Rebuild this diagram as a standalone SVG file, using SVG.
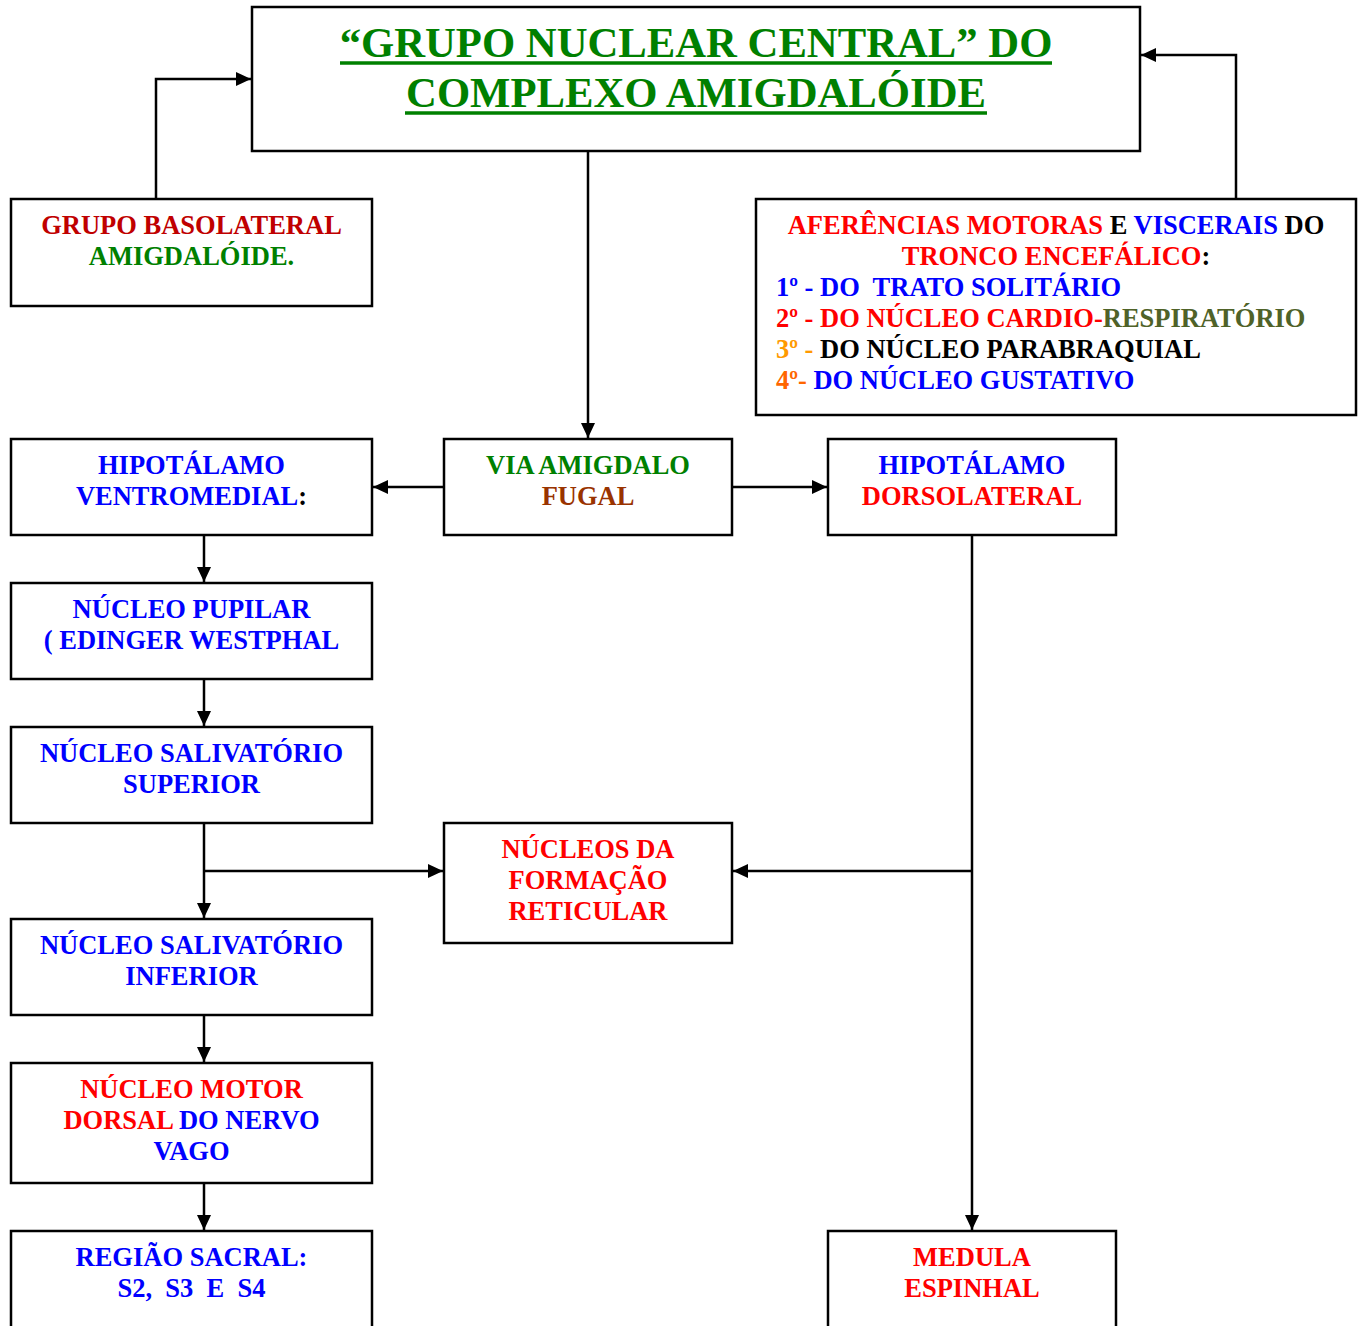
<svg xmlns="http://www.w3.org/2000/svg" width="1362" height="1326" viewBox="0 0 1362 1326">
  <style>
    .box { fill: #ffffff; stroke: #000000; stroke-width: 2.5; }
    .lbl { font-family: "Liberation Serif", "Times New Roman", serif; font-weight: bold; font-size: 26.5px; white-space: pre; }
    .mid { text-anchor: middle; }
    .title { font-family: "Liberation Serif", "Times New Roman", serif; font-weight: bold; font-size: 42.7px; fill: #008000; text-anchor: middle; }
    .ul { stroke: #008000; stroke-width: 3.5; }
    .wire { fill: none; stroke: #000000; stroke-width: 2.5; }
    .r { fill: #ff0000; }
    .b { fill: #0000ff; }
    .g { fill: #008000; }
    .k { fill: #000000; }
    .dr { fill: #c00000; }
    .br { fill: #993300; }
    .ol { fill: #4f6228; }
    .o1 { fill: #ff9900; }
    .o2 { fill: #ff6600; }
  </style>
  <defs>
    <marker id="arrow" markerUnits="userSpaceOnUse" markerWidth="15" markerHeight="14" refX="15" refY="7" orient="auto">
      <path d="M0,0 L15,7 L0,14 z" fill="#000000"/>
    </marker>
  </defs>

  <rect width="1362" height="1326" fill="#ffffff"/>

  <!-- connectors -->
  <g id="connectors" class="wire" marker-end="url(#arrow)">
    <path d="M156,199 V79 H251"/>
    <path d="M1236,199 V55 H1141"/>
    <path d="M588,151 V438"/>
    <path d="M444,487 H373"/>
    <path d="M732,487 H827"/>
    <path d="M204,535 V582"/>
    <path d="M204,679 V726"/>
    <path d="M204,823 V918"/>
    <path d="M204,871 H443"/>
    <path d="M204,1015 V1062"/>
    <path d="M204,1183 V1230"/>
    <path d="M972,535 V1230"/>
    <path d="M972,871 H733"/>
  </g>

  <!-- central nucleus group -->
  <g id="nucleo-central">
    <rect class="box" x="252" y="7" width="888" height="144"/>
    <text class="title" x="696" y="57">“GRUPO NUCLEAR CENTRAL” DO</text>
    <line class="ul" x1="340" y1="63" x2="1052" y2="63"/>
    <text class="title" x="696" y="107">COMPLEXO AMIGDALÓIDE</text>
    <line class="ul" x1="405" y1="113" x2="987" y2="113"/>
  </g>

  <g id="basolateral">
    <rect class="box" x="11" y="199" width="361" height="107"/>
    <text class="lbl mid dr" x="191.5" y="234">GRUPO BASOLATERAL</text>
    <text class="lbl mid g" x="191.5" y="265">AMIGDALÓIDE.</text>
  </g>

  <g id="aferencias">
    <rect class="box" x="756" y="199" width="600" height="216"/>
    <text class="lbl mid" x="1056" y="234"><tspan class="r">AFERÊNCIAS MOTORAS</tspan><tspan class="k"> E </tspan><tspan class="b">VISCERAIS</tspan><tspan class="k"> DO</tspan></text>
    <text class="lbl mid" x="1056" y="265"><tspan class="r">TRONCO ENCEFÁLICO</tspan><tspan class="k">:</tspan></text>
    <text class="lbl b" x="776" y="296">1º - DO  TRATO SOLITÁRIO</text>
    <text class="lbl" x="776" y="327"><tspan class="r">2º - DO NÚCLEO CARDIO-</tspan><tspan class="ol">RESPIRATÓRIO</tspan></text>
    <text class="lbl" x="776" y="358"><tspan class="o1">3º - </tspan><tspan class="k">DO NÚCLEO PARABRAQUIAL</tspan></text>
    <text class="lbl" x="776" y="389"><tspan class="o2">4º- </tspan><tspan class="b">DO NÚCLEO GUSTATIVO</tspan></text>
  </g>

  <g id="via-amigdalofugal">
    <rect class="box" x="444" y="439" width="288" height="96"/>
    <text class="lbl mid g" x="588" y="474">VIA AMIGDALO</text>
    <text class="lbl mid br" x="588" y="505">FUGAL</text>
  </g>

  <g id="hipotalamo-ventromedial">
    <rect class="box" x="11" y="439" width="361" height="96"/>
    <text class="lbl mid b" x="191.5" y="474">HIPOTÁLAMO</text>
    <text class="lbl mid" x="191.5" y="505"><tspan class="b">VENTROMEDIAL</tspan><tspan class="k">:</tspan></text>
  </g>

  <g id="hipotalamo-dorsolateral">
    <rect class="box" x="828" y="439" width="288" height="96"/>
    <text class="lbl mid b" x="972" y="474">HIPOTÁLAMO</text>
    <text class="lbl mid r" x="972" y="505">DORSOLATERAL</text>
  </g>

  <g id="nucleo-pupilar">
    <rect class="box" x="11" y="583" width="361" height="96"/>
    <text class="lbl mid b" x="191.5" y="618">NÚCLEO PUPILAR</text>
    <text class="lbl mid b" x="191.5" y="649">( EDINGER WESTPHAL</text>
  </g>

  <g id="salivatorio-superior">
    <rect class="box" x="11" y="727" width="361" height="96"/>
    <text class="lbl mid b" x="191.5" y="762">NÚCLEO SALIVATÓRIO</text>
    <text class="lbl mid b" x="191.5" y="793">SUPERIOR</text>
  </g>

  <g id="formacao-reticular">
    <rect class="box" x="444" y="823" width="288" height="120"/>
    <text class="lbl mid r" x="588" y="858">NÚCLEOS DA</text>
    <text class="lbl mid r" x="588" y="889">FORMAÇÃO</text>
    <text class="lbl mid r" x="588" y="920">RETICULAR</text>
  </g>

  <g id="salivatorio-inferior">
    <rect class="box" x="11" y="919" width="361" height="96"/>
    <text class="lbl mid b" x="191.5" y="954">NÚCLEO SALIVATÓRIO</text>
    <text class="lbl mid b" x="191.5" y="985">INFERIOR</text>
  </g>

  <g id="motor-dorsal-vago">
    <rect class="box" x="11" y="1063" width="361" height="120"/>
    <text class="lbl mid r" x="191.5" y="1098">NÚCLEO MOTOR</text>
    <text class="lbl mid" x="191.5" y="1129"><tspan class="r">DORSAL</tspan><tspan class="b"> DO NERVO</tspan></text>
    <text class="lbl mid b" x="191.5" y="1160">VAGO</text>
  </g>

  <g id="regiao-sacral">
    <rect class="box" x="11" y="1231" width="361" height="120"/>
    <text class="lbl mid b" x="191.5" y="1266">REGIÃO SACRAL:</text>
    <text class="lbl mid b" x="191.5" y="1297">S2,  S3  E  S4</text>
  </g>

  <g id="medula-espinhal">
    <rect class="box" x="828" y="1231" width="288" height="120"/>
    <text class="lbl mid r" x="972" y="1266">MEDULA</text>
    <text class="lbl mid r" x="972" y="1297">ESPINHAL</text>
  </g>
</svg>
